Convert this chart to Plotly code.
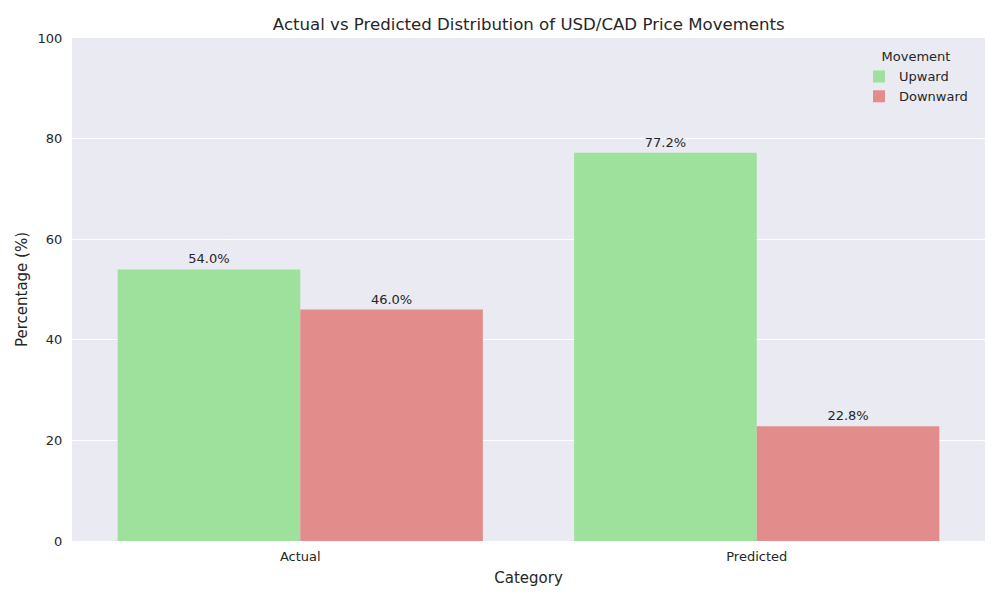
import plotly.graph_objects as go

categories = ['Actual', 'Predicted']
upward = [54.0, 77.2]
downward = [46.0, 22.8]

fig = go.Figure(data=[
    go.Bar(name='Upward', x=categories, y=upward, marker_color='#9DE19D',
           marker_line_width=0,
           texttemplate='%{y:.1f}%', textposition='outside', cliponaxis=False,
           textfont=dict(size=13, color='#262626')),
    go.Bar(name='Downward', x=categories, y=downward, marker_color='#E28C8C',
           marker_line_width=0,
           texttemplate='%{y:.1f}%', textposition='outside', cliponaxis=False,
           textfont=dict(size=13, color='#262626')),
])

# page body has an 8px margin, so size/margins are compensated for it
fig.update_layout(
    width=992, height=592,
    barmode='group', bargap=0.2, bargroupgap=0,
    paper_bgcolor='white', plot_bgcolor='#EAEAF2',
    font=dict(family='DejaVu Sans', size=13, color='#262626'),
    margin=dict(l=64, r=15, t=30, b=59, autoexpand=False),
    title=dict(text='Actual vs Predicted Distribution of USD/CAD Price Movements',
               x=0.525, xanchor='center', y=0.973, yanchor='middle',
               font=dict(size=16.6, color='#262626')),
    legend=dict(title=dict(text='Movement', side='top center', font=dict(size=13)),
                x=0.862, y=0.987, xanchor='left', yanchor='top',
                bgcolor='rgba(0,0,0,0)', font=dict(size=13), tracegroupgap=0),
    xaxis=dict(title=dict(text='Category', font=dict(size=15), standoff=9),
               range=[-0.5, 1.5], showgrid=False, ticks='outside', ticklen=3,
               tickcolor='rgba(0,0,0,0)', showline=False, automargin=False),
    yaxis=dict(title=dict(text='Percentage (%)', font=dict(size=15), standoff=6),
               range=[0, 100], dtick=20, gridcolor='white', gridwidth=1.2,
               zeroline=False, ticks='outside', ticklen=6,
               tickcolor='rgba(0,0,0,0)', showline=False, automargin=False),
)

fig.write_html("out.html")
